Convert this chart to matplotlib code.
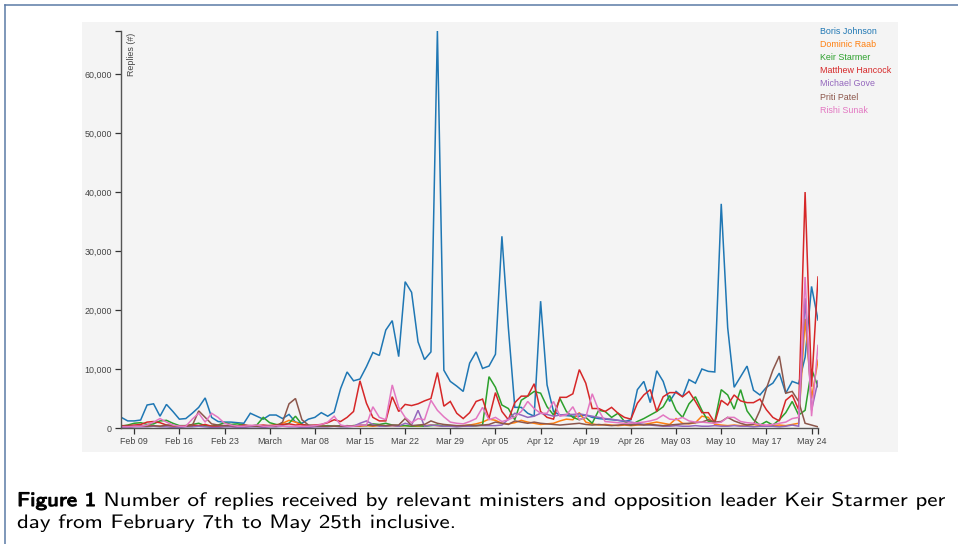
import matplotlib
matplotlib.use("Agg")

import matplotlib.pyplot as plt
import pandas as pd

from matplotlib.font_manager import FontProperties
from matplotlib.lines import Line2D
from matplotlib.patches import PathPatch, Rectangle
from matplotlib.textpath import TextPath
from matplotlib.ticker import FuncFormatter
from matplotlib.transforms import Affine2D

# Replies per day, Feb 7 to May 25 2020.
dates = pd.date_range("2020-02-07", "2020-05-25", freq="D")

boris = [
    1800, 1200, 1200, 1350, 3900, 4100, 2000, 4000, 2800, 1500,
    1600, 2500, 3500, 5100, 1800, 1100, 1000, 1000, 900, 800,
    2500, 2000, 1500, 2200, 2200, 1600, 2300, 1000, 800, 1500,
    1800, 2600, 2000, 2700, 6700, 9500, 8000, 8300, 10400, 12800,
    12300, 16600, 18200, 12100, 24800, 23000, 14600, 11600, 12900, 67300,
    9800, 7900, 7100, 6200, 11000, 12900, 10100, 10500, 12500, 32500,
    17000, 3500, 3500, 2500, 2000, 21500, 7300, 2800, 2200, 2100,
    2000, 2000, 2200, 1800, 1600, 1500, 1400, 1300, 1100, 1400,
    6500, 7900, 4300, 9700, 7900, 4500, 6200, 5300, 8200, 7600,
    10000, 9600, 9500, 38000, 17000, 6900, 8700, 10500, 6400, 5600,
    6900, 7600, 9300, 5900, 7900, 7500, 12000, 24000, 18300]
raab = [
    200, 200, 300, 300, 400, 300, 300, 400, 300, 200,
    300, 300, 400, 300, 300, 200, 300, 300, 200, 300,
    300, 400, 300, 400, 500, 800, 1300, 1000, 500, 400,
    300, 300, 300, 400, 300, 300, 400, 300, 400, 300,
    400, 300, 400, 300, 400, 300, 300, 400, 500, 400,
    300, 400, 300, 400, 500, 700, 1000, 1500, 1300, 800,
    700, 900, 1300, 1000, 800, 600, 700, 800, 1200, 1500,
    1400, 2600, 1000, 700, 500, 600, 500, 400, 500, 400,
    500, 600, 800, 1000, 800, 600, 1600, 800, 700, 900,
    2000, 1800, 600, 500, 400, 500, 400, 500, 600, 400,
    300, 400, 500, 400, 600, 800, 18500, 5000, 11500]
starmer = [
    300, 500, 800, 900, 600, 700, 1200, 1300, 800, 400,
    400, 600, 800, 400, 300, 500, 900, 600, 700, 500,
    300, 500, 1800, 900, 600, 500, 800, 2000, 600, 400,
    300, 300, 400, 300, 400, 300, 400, 500, 400, 700,
    600, 800, 500, 400, 400, 300, 400, 300, 400, 500,
    300, 400, 300, 400, 300, 400, 500, 8700, 6900, 3900,
    3300, 1400, 4700, 5400, 6200, 5900, 3600, 2200, 5000, 2800,
    1800, 1400, 1800, 800, 3000, 2800, 1800, 2500, 1100, 500,
    1100, 1600, 2200, 2800, 3600, 5500, 3000, 1800, 4100, 5300,
    3000, 1100, 1100, 6500, 5600, 3200, 6500, 2900, 1400, 500,
    1100, 500, 1400, 2600, 4500, 2200, 3000, 10000, 7000]
hancock = [
    400, 400, 500, 600, 1000, 1100, 900, 500, 400, 300,
    400, 500, 400, 600, 300, 300, 400, 300, 300, 500,
    400, 400, 500, 400, 500, 600, 700, 500, 600, 400,
    500, 600, 900, 1400, 1100, 1800, 2800, 8000, 4200, 1800,
    1200, 1200, 5300, 2800, 4000, 3800, 4100, 4600, 5000, 9400,
    3700, 4500, 2500, 1600, 2600, 4500, 4900, 1600, 6000, 2800,
    1400, 4300, 5400, 5400, 7500, 2800, 1800, 1500, 5200, 5200,
    5800, 9900, 7600, 3300, 3300, 2800, 3500, 2500, 1800, 1500,
    4200, 5600, 6500, 2800, 5300, 6000, 6000, 5300, 6200, 4500,
    2600, 2600, 900, 4700, 3900, 5600, 4600, 4300, 4300, 4900,
    3100, 1800, 1200, 4700, 5600, 3100, 40000, 7000, 25600]
gove = [
    100, 100, 200, 200, 200, 300, 200, 200, 100, 100,
    200, 200, 300, 200, 100, 100, 200, 200, 100, 100,
    200, 200, 100, 200, 200, 300, 200, 200, 100, 100,
    200, 200, 200, 300, 200, 200, 300, 800, 1200, 600,
    300, 300, 400, 300, 800, 500, 3000, 300, 500, 400,
    300, 300, 200, 300, 300, 400, 400, 400, 400, 500,
    1500, 2500, 2200, 1800, 2000, 2500, 2300, 2000, 2200, 2300,
    2300, 2400, 2200, 2000, 1800, 1600, 1500, 1300, 1200, 1000,
    800, 600, 500, 400, 300, 300, 400, 300, 300, 400,
    300, 300, 400, 300, 300, 400, 300, 300, 200, 300,
    300, 300, 200, 300, 500, 300, 22000, 3000, 8000]
patel = [
    300, 300, 300, 400, 300, 400, 300, 500, 400, 300,
    300, 400, 2900, 1800, 700, 500, 400, 400, 300, 300,
    400, 300, 300, 400, 300, 1000, 4100, 5000, 1400, 500,
    400, 300, 300, 300, 300, 400, 300, 400, 500, 400,
    500, 400, 500, 500, 1600, 400, 500, 600, 1200, 800,
    600, 500, 400, 400, 500, 400, 500, 600, 1000, 800,
    600, 1200, 1000, 800, 1000, 800, 700, 600, 500, 600,
    700, 800, 600, 500, 600, 500, 400, 500, 600, 500,
    600, 500, 600, 500, 400, 500, 600, 700, 800, 900,
    1000, 1400, 1000, 1100, 1800, 1200, 800, 500, 600, 3000,
    6700, 9800, 12200, 5900, 6200, 4500, 800, 500, 200]
sunak = [
    200, 200, 300, 300, 500, 1000, 1600, 1000, 500, 300,
    300, 1500, 2500, 1000, 2500, 1800, 800, 500, 300, 300,
    400, 500, 300, 300, 400, 300, 300, 300, 300, 300,
    400, 600, 1000, 2000, 500, 300, 300, 500, 500, 3600,
    1800, 1400, 7300, 3500, 1800, 900, 1600, 1400, 4700, 3000,
    1900, 1000, 800, 700, 1100, 1600, 3500, 1400, 1800, 1100,
    1400, 1900, 2800, 4500, 3300, 2500, 2500, 4500, 2000, 2200,
    3600, 1400, 1800, 5800, 3000, 1100, 1000, 900, 800, 800,
    900, 1000, 1200, 1500, 2200, 1500, 1400, 1800, 1200, 1000,
    1000, 900, 800, 1000, 1800, 1800, 1100, 900, 800, 600,
    500, 600, 800, 1000, 1600, 1800, 25600, 2000, 14000]

names = ["Boris Johnson", "Dominic Raab", "Keir Starmer", "Matthew Hancock",
         "Michael Gove", "Priti Patel", "Rishi Sunak"]
series = [boris, raab, starmer, hancock, gove, patel, sunak]
colors = ["#1f77b4", "#ff7f0e", "#2ca02c", "#d62728", "#9467bd", "#8c564b", "#e377c2"]

caption_label = "Figure 1"
caption_line1 = "Number of replies received by relevant ministers and opposition leader Keir Starmer per"
caption_line2 = "day from February 7th to May 25th inclusive."

W, H = 958, 544
AXIS_GREY = "#555555"
TEXT_GREY = "#444444"


def fx(px):
    return px / W


def fy(py):
    return 1 - py / H


fig = plt.figure(figsize=(W / 100, H / 100), dpi=100)
plt.rcParams["font.family"] = ["Liberation Sans", "DejaVu Sans"]

# Page frame and grey chart panel.
fig.add_artist(Line2D([fx(5), 1], [fy(5), fy(5)], color="#5b7aa6", lw=1.1))
fig.add_artist(Line2D([fx(5), fx(5)], [fy(5), 0], color="#5b7aa6", lw=1.1))
fig.add_artist(Rectangle((fx(82), fy(452)), fx(898) - fx(82), fy(21.5) - fy(452),
                         transform=fig.transFigure, facecolor="#f4f4f4",
                         edgecolor="none", zorder=0))

ax = fig.add_axes([fx(121.3), fy(428), fx(818) - fx(121.3), fy(31) - fy(428)])
ax.patch.set_visible(False)

for vals, color in zip(series, colors):
    ax.plot(dates, vals, color=color, lw=1.1, solid_joinstyle="miter")

ax.set_xlim(dates[0], dates[-1])
ax.set_ylim(0, max(boris))

for side in ["top", "right"]:
    ax.spines[side].set_visible(False)
for side in ["left", "bottom"]:
    ax.spines[side].set_color(AXIS_GREY)
    ax.spines[side].set_linewidth(1.0)

week_ticks = pd.date_range("2020-02-09", "2020-05-24", freq="7D")
ax.set_xticks(week_ticks)
ax.set_xticklabels(["March" if d.day == 1 else d.strftime("%b %d") for d in week_ticks])
ax.set_yticks(range(0, 70000, 10000))
ax.yaxis.set_major_formatter(FuncFormatter(lambda v, _: f"{int(v):,}"))

# d3 style outer ticks at the ends of the domain.
ax.set_xticks([dates[-1]], minor=True)
ax.set_yticks([max(boris)], minor=True)

ax.tick_params(which="both", length=4.3, width=0.9, color="#333333",
               labelsize=6.4, labelcolor=TEXT_GREY, pad=2.5)

ax.text(0.008, 0.995, "Replies (#)", transform=ax.transAxes, rotation=90,
        ha="left", va="top", fontsize=6.4, color=TEXT_GREY)

# Coloured text legend.
for k, (name, color) in enumerate(zip(names, colors)):
    fig.text(fx(820), fy(31 + 13.2 * k), name, color=color, fontsize=6.4,
             ha="left", va="center")

# Caption: Computer Modern Sans (bundled with matplotlib), drawn as text paths
# so it can be widened a little like the LaTeX original.
cap_prop = FontProperties(family="cmss10")
CAP_PX = 19.5          # em size in pixels
CAP_LEFT, CAP_RIGHT = 17, 945
GAP = 9

paths = [TextPath((0, 0), s, size=CAP_PX, prop=cap_prop)
         for s in (caption_label, caption_line1, caption_line2)]
natural = paths[0].get_extents().x1 + paths[1].get_extents().x1
sx = (CAP_RIGHT - CAP_LEFT - GAP) / natural


def put_path(path, x_px, base_px, bold=False):
    tr = Affine2D().scale(sx, 1).translate(x_px, H - base_px)
    fig.add_artist(PathPatch(path, transform=tr, facecolor="black",
                             edgecolor="black" if bold else "none",
                             lw=0.8 if bold else 0))


put_path(paths[0], CAP_LEFT, 506, bold=True)
put_path(paths[1], CAP_LEFT + paths[0].get_extents().x1 * sx + GAP, 506)
put_path(paths[2], CAP_LEFT, 528)

fig.savefig("out.png", dpi=100)
